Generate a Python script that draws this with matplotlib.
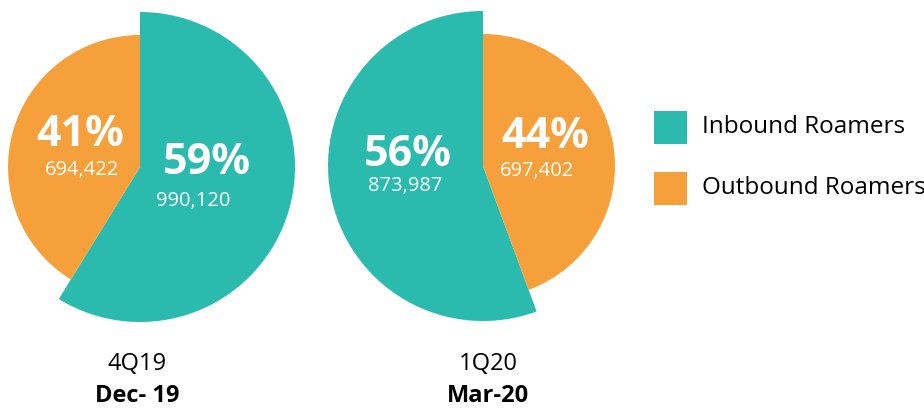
import matplotlib
matplotlib.use("Agg")
import matplotlib.pyplot as plt
from matplotlib.patches import Rectangle

# ---- data ----
series = ["Inbound Roamers", "Outbound Roamers"]
periods = ["4Q19", "1Q20"]
period_dates = ["Dec- 19", "Mar-20"]
inbound = [990120, 873987]
outbound = [694422, 697402]
inbound_pct = ["59%", "56%"]
outbound_pct = ["41%", "44%"]

TEAL = "#2BBBAE"
ORANGE = "#F6A03B"
FONT = "Open Sans"

W, H = 924, 408
fig = plt.figure(figsize=(W / 100, H / 100), dpi=100)
ax = fig.add_axes([0, 0, 1, 1])
ax.set_xlim(0, W)
ax.set_ylim(0, H)
ax.set_aspect("equal")
ax.axis("off")

def fmt(v):
    return f"{v:,}"

# layout (pixels, y measured from bottom)
centers = [(140, H - 167), (483, H - 166)]
label_x = [137, 488]
r_in, r_out = 155, 132
counterclock = [False, True]
# label positions relative to centre
pct_in_off = [(67, 5), (-75, 12)]
num_in_off = [(53, -34), (-78, -20)]
pct_out_off = [(-60, 33), (62, 30)]
num_out_off = [(-58, -3), (54, -5)]

for i in range(2):
    cx, cy = centers[i]
    wedges, _ = ax.pie([inbound[i], outbound[i]], colors=[TEAL, ORANGE],
                       startangle=90, counterclock=counterclock[i],
                       center=(cx, cy), radius=r_in, frame=True,
                       wedgeprops=dict(linewidth=0))
    wedges[1].set_radius(r_out)
    ax.text(cx + pct_in_off[i][0], cy + pct_in_off[i][1], inbound_pct[i],
            color="white", fontsize=31, fontweight="bold", family=FONT,
            ha="center", va="center")
    ax.text(cx + num_in_off[i][0], cy + num_in_off[i][1], fmt(inbound[i]),
            color="white", fontsize=14.5, family=FONT, ha="center", va="center")
    ax.text(cx + pct_out_off[i][0], cy + pct_out_off[i][1], outbound_pct[i],
            color="white", fontsize=31, fontweight="bold", family=FONT,
            ha="center", va="center")
    ax.text(cx + num_out_off[i][0], cy + num_out_off[i][1], fmt(outbound[i]),
            color="white", fontsize=14.5, family=FONT, ha="center", va="center")
    ax.text(label_x[i], H - 364, periods[i], color="black", fontsize=17,
            family=FONT, ha="center", va="center")
    ax.text(label_x[i], H - 396, period_dates[i], color="black", fontsize=17,
            fontweight="bold", family=FONT, ha="center", va="center")

ax.set_xlim(0, W)
ax.set_ylim(0, H)
ax.axis("off")

# legend
leg_y = [H - 127, H - 188]
for name, col, y in zip(series, [TEAL, ORANGE], leg_y):
    ax.add_patch(Rectangle((654, y - 16.5), 33, 33, color=col, lw=0))
    ax.text(702, y, name, fontsize=17.5, family=FONT, color="black",
            ha="left", va="center")

fig.savefig("out.png", dpi=100, facecolor="white")
